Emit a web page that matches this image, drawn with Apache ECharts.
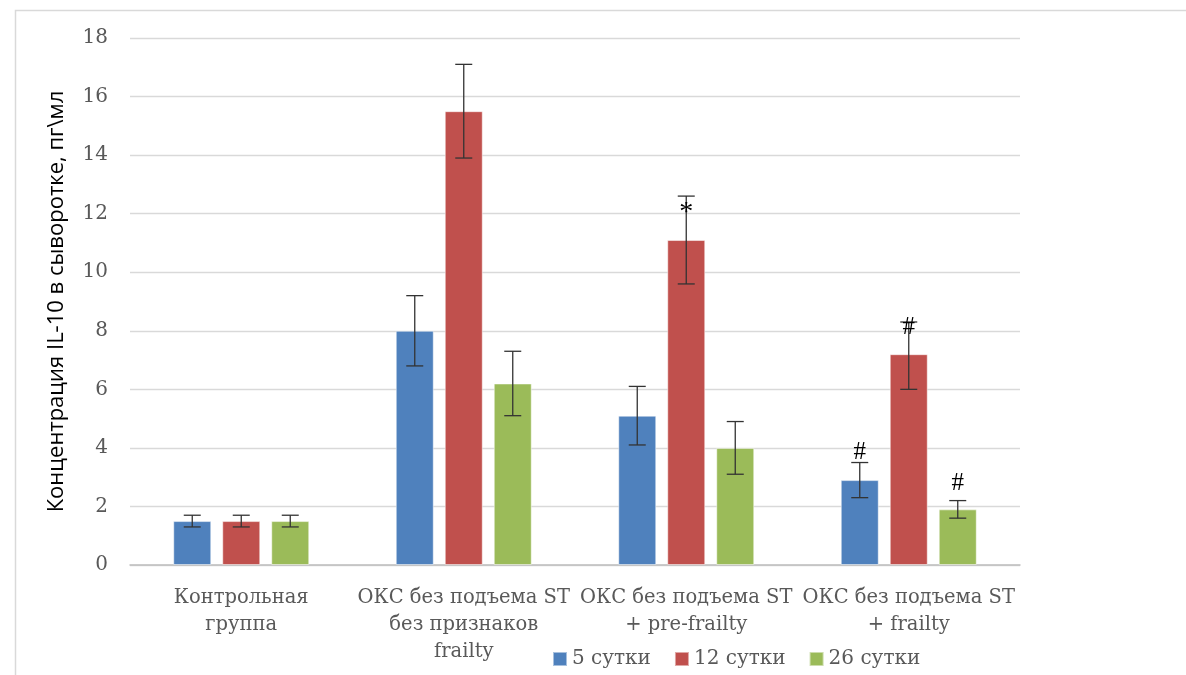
<!DOCTYPE html>
<html><head><meta charset="utf-8">
<script src="https://cdn.jsdelivr.net/npm/echarts@6/dist/echarts.min.js"></script>
<style>html,body{margin:0;padding:0;background:#fff}#c{width:1186px;height:675px}</style>
</head><body><div id="c"></div>
<script>
const categories = ['Контрольная\nгруппа', 'ОКС без подъема ST\nбез признаков\nfrailty', 'ОКС без подъема ST\n+ pre-frailty', 'ОКС без подъема ST\n+ frailty'];
const seriesNames = ['5 сутки', '12 сутки', '26 сутки'];
const day5 = [1.5, 8.0, 5.1, 2.9];
const day12 = [1.5, 15.5, 11.1, 7.2];
const day26 = [1.5, 6.2, 4.0, 1.9];
const err5 = [[1.3, 1.7], [6.8, 9.2], [4.1, 6.1], [2.3, 3.5]];
const err12 = [[1.3, 1.7], [13.9, 17.1], [9.6, 12.6], [6.0, 8.3]];
const err26 = [[1.3, 1.7], [5.1, 7.3], [3.1, 4.9], [1.6, 2.2]];
// [category index, series index, y value, text]
const marks = [[2, 1, 12.2, '*'], [3, 0, 3.83, '#'], [3, 1, 8.13, '#'], [3, 2, 2.8, '#']];
const yTicks = [0, 2, 4, 6, 8, 10, 12, 14, 16, 18];

const colors = ['#4f81bd', '#c0504d', '#9bbb59'];
const BW = 38, GAP = 11;
const values = [day5, day12, day26];
const errs = [err5, err12, err26];
const SERIF = '"DejaVu Serif"';

const chart = echarts.init(document.getElementById('c'));
const series = [];
values.forEach((v, i) => {
  series.push({
    name: seriesNames[i], type: 'bar', data: v, barWidth: BW, barGap: (GAP / BW * 100) + '%',
    itemStyle: { color: colors[i], borderColor: 'rgba(255,255,255,0.5)', borderWidth: 1 }
  });
});
errs.forEach((e, i) => {
  series.push({
    type: 'custom', silent: true, z: 5,
    data: e.map((p, k) => [k, p[0], p[1]]),
    renderItem: function (params, api) {
      const off = (i - 1) * (BW + GAP);
      const lo = api.coord([api.value(0), api.value(1)]);
      const hi = api.coord([api.value(0), api.value(2)]);
      const x = lo[0] + off, w = 8.5;
      const st = { stroke: '#333', lineWidth: 1.3 };
      return { type: 'group', children: [
        { type: 'line', shape: { x1: x, y1: lo[1], x2: x, y2: hi[1] }, style: st },
        { type: 'line', shape: { x1: x - w, y1: lo[1], x2: x + w, y2: lo[1] }, style: st },
        { type: 'line', shape: { x1: x - w, y1: hi[1], x2: x + w, y2: hi[1] }, style: st }
      ]};
    }
  });
});
series.push({
  type: 'custom', silent: true, z: 6,
  data: marks.map(m => [m[0], m[2], m[1], m[3]]),
  renderItem: function (params, api) {
    const m = marks[params.dataIndex];
    const p = api.coord([m[0], m[2]]);
    const off = (m[1] - 1) * (BW + GAP);
    const big = m[3] === '*';
    return { type: 'text', x: p[0] + off, y: p[1] + (big ? 5 : 0), style: {
      text: m[3], fill: '#000', font: (big ? '28px' : '25px') + ' "Liberation Serif"', align: 'center', verticalAlign: 'middle' } };
  }
});

chart.setOption({
  animation: false,
  color: colors,
  graphic: [
    { type: 'polyline', shape: { points: [[15.5, 675], [15.5, 10.5], [1186, 10.5]] }, style: { stroke: '#d9d9d9', lineWidth: 1.5, fill: null } }
  ],
  grid: { left: 130, right: 166, top: 38, bottom: 110 },
  legend: {
    data: seriesNames, bottom: 1, left: 547, itemWidth: 14, itemHeight: 14, itemGap: 23,
    icon: 'rect', textStyle: { fontFamily: SERIF, fontSize: 20, color: '#595959' }
  },
  xAxis: {
    type: 'category', data: categories,
    axisTick: { show: false },
    axisLine: { lineStyle: { color: '#bfbfbf', width: 1.5 } },
    axisLabel: { interval: 0, margin: 19, fontFamily: SERIF, fontSize: 19.5, lineHeight: 27, color: '#595959' }
  },
  yAxis: {
    type: 'value', min: 0, max: 18, interval: 2,
    axisLabel: { fontFamily: SERIF, fontSize: 20, color: '#595959', margin: 22,
      formatter: v => yTicks.includes(v) ? String(v) : '' },
    splitLine: { lineStyle: { color: '#d9d9d9', width: 1.3 } },
    axisLine: { show: false }, axisTick: { show: false },
    name: 'Концентрация IL-10 в сыворотке, пг\\мл', nameLocation: 'middle', nameGap: 62,
    nameTextStyle: { fontFamily: 'Open Sans', fontSize: 22, color: '#000' }
  },
  series: series
});
</script></body></html>
